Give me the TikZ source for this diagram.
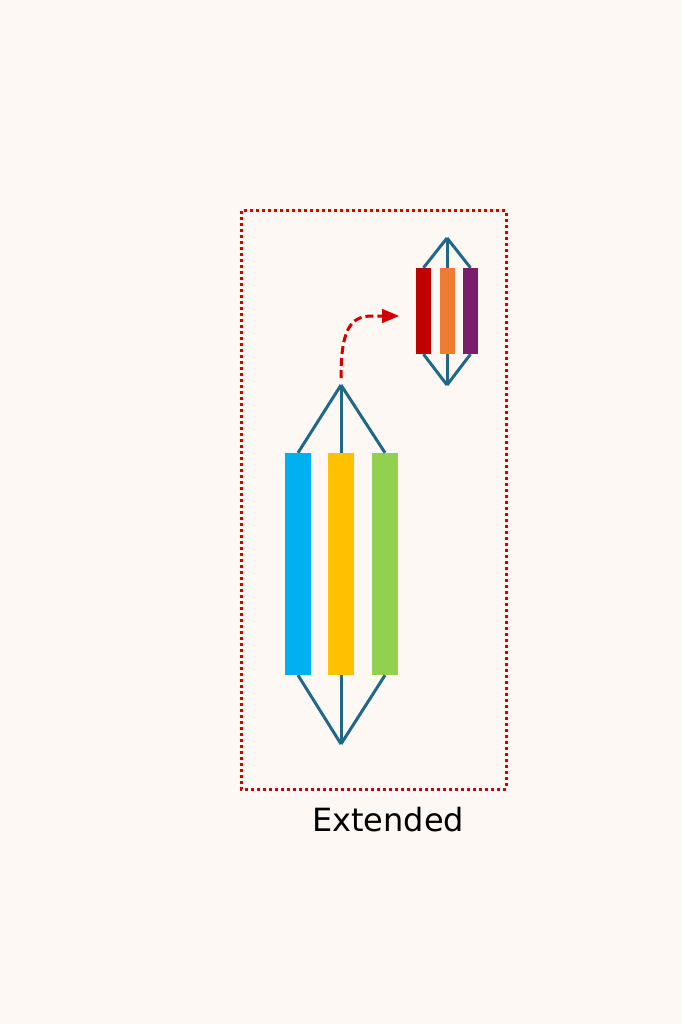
\documentclass[tikz,border=0pt]{standalone}
\usepackage{fontspec}
\usepackage{tikz}
\usetikzlibrary{arrows}
\newfontfamily\labelfont{DejaVu Sans}
\definecolor{paper}{RGB}{253,248,244}
\definecolor{stem}{RGB}{31,104,138}
\definecolor{frame}{RGB}{210,0,0}
\definecolor{cBlue}{RGB}{0,176,240}
\definecolor{cYellow}{RGB}{255,192,0}
\definecolor{cGreen}{RGB}{146,208,80}
\definecolor{cRed}{RGB}{192,0,0}
\definecolor{cOrange}{RGB}{237,125,49}
\definecolor{cPurple}{RGB}{122,30,108}
\tikzset{
bigbar/.style={rectangle,inner sep=0,minimum width=26pt,minimum height=222pt,fill=#1},
smallbar/.style={rectangle,inner sep=0,minimum width=15pt,minimum height=86pt,fill=#1},
stemline/.style={draw=stem,line width=3pt}
}

\begin{document}
\begin{tikzpicture}[x=1pt,y=-1pt]
\fill[paper] (0,0) rectangle (682,1024);
\draw[frame,line width=3pt,dash pattern=on 3pt off 3pt] (241,211) rectangle (506,789);
\draw
(341,385) coordinate(ttop)
(341,744) coordinate(tbot)
(447,238) coordinate(stop)
(447,385) coordinate(sbot)
(298,564) node[bigbar=cBlue](b1){}
(341,564) node[bigbar=cYellow](b2){}
(385,564) node[bigbar=cGreen](b3){}
(423.5,311) node[smallbar=cRed](s1){}
(447,311) node[smallbar=cOrange](s2){}
(470.5,311) node[smallbar=cPurple](s3){}
;
%%% Stems
\foreach \b in {b1,b2,b3}{
\draw[stemline](ttop) -- (\b.north);
\draw[stemline](\b.south) -- (tbot);
}
\foreach \b in {s1,s2,s3}{
\draw[stemline](stop) -- (\b.north);
\draw[stemline](\b.south) -- (sbot);
}
%%% Arrow
\coordinate (from) at (341,378);
\coordinate (to) at (399,316);
\draw[frame,line width=3pt,dash pattern=on 8pt off 4pt,-triangle 45] (from) .. controls (341,330) and (350,316) .. (372,316) -- (to);
\node[font=\labelfont\fontsize{32}{38}\selectfont] (lbl) at (388,820) {Extended};
\end{tikzpicture}
\end{document}
